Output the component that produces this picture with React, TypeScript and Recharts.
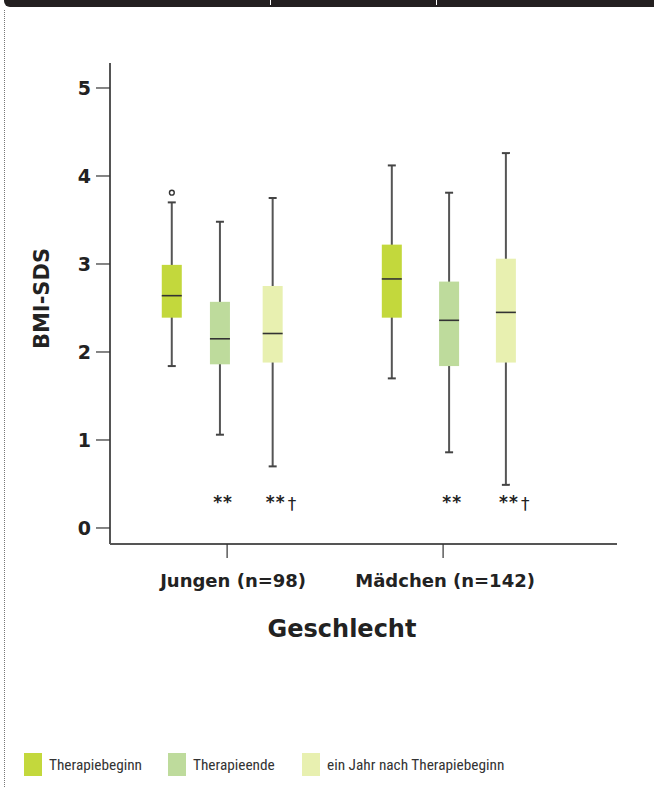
import React from "react";
import {
  ComposedChart,
  Bar,
  Scatter,
  XAxis,
  YAxis,
  Label,
} from "recharts";

// ---- data ----
const categories = ["Jungen (n=98)", "Mädchen (n=142)"];
const categoryPos = [2.31, 6.57];
const seriesNames = ["Therapiebeginn", "Therapieende", "ein Jahr nach Therapiebeginn"];
const seriesColors = ["#c3d83c", "#bedb9c", "#e8f0b0"];

const boxPos = [1.22, 2.17, 3.21, 5.56, 6.69, 7.81];
const boxSeries = [0, 1, 2, 0, 1, 2];
const whiskerLow = [1.84, 1.06, 0.7, 1.7, 0.86, 0.49];
const q1 = [2.39, 1.86, 1.88, 2.39, 1.84, 1.88];
const median = [2.64, 2.15, 2.21, 2.83, 2.36, 2.45];
const q3 = [2.99, 2.57, 2.75, 3.22, 2.8, 3.06];
const whiskerHigh = [3.7, 3.48, 3.75, 4.12, 3.81, 4.26];
const annotations = ["", "**", "**", "", "**", "**"];
const annotationDagger = [false, false, true, false, false, true];

const outlierPos = [1.22];
const outlierValue = [3.81];

const yTicks = [0, 1, 2, 3, 4, 5];

const boxData = boxPos.map((pos, i) => ({
  pos,
  range: [whiskerLow[i], whiskerHigh[i]],
  lo: whiskerLow[i],
  q1: q1[i],
  med: median[i],
  q3: q3[i],
  hi: whiskerHigh[i],
  color: seriesColors[boxSeries[i]],
}));

const outlierData = outlierPos.map((pos, i) => ({ pos, value: outlierValue[i] }));

const ANNOT_Y = 0.32;
const annotationData = boxPos
  .map((pos, i) => ({ pos, value: ANNOT_Y, text: annotations[i], dagger: annotationDagger[i] }))
  .filter((d) => d.text);

const FONT = "'DejaVu Sans', 'Open Sans', sans-serif";
const LEGEND_FONT = "'Liberation Sans Narrow', 'Roboto Condensed', 'Liberation Sans', sans-serif";

const BoxShape = (props: any) => {
  const { x, y, width, height, payload } = props;
  if (height == null || !payload) return null;
  const ppu = height / (payload.hi - payload.lo);
  const py = (v: number) => y + (payload.hi - v) * ppu;
  const cx = x + width / 2;
  const cap = 4;
  return (
    <g>
      <line x1={cx} x2={cx} y1={py(payload.hi)} y2={py(payload.lo)} stroke="#555" strokeWidth={2} />
      <line x1={cx - cap} x2={cx + cap} y1={py(payload.hi)} y2={py(payload.hi)} stroke="#444" strokeWidth={2} />
      <line x1={cx - cap} x2={cx + cap} y1={py(payload.lo)} y2={py(payload.lo)} stroke="#444" strokeWidth={2} />
      <rect x={x} y={py(payload.q3)} width={width} height={py(payload.q1) - py(payload.q3)} fill={payload.color} />
      <line x1={x} x2={x + width} y1={py(payload.med)} y2={py(payload.med)} stroke="#333" strokeWidth={1.6} />
    </g>
  );
};

const OutlierShape = (props: any) => {
  const { cx, cy } = props;
  return <circle cx={cx} cy={cy} r={2.4} fill="#fff" stroke="#333" strokeWidth={1.4} />;
};

const AnnotShape = (props: any) => {
  const { cx, cy, payload } = props;
  return (
    <g>
      <text x={cx + 3} y={cy + 2} textAnchor="middle" dominantBaseline="central" fontFamily={FONT} fontSize={17} fontWeight={700} letterSpacing={1} fill="#222">
        {payload.text}
      </text>
      {payload.dagger && (
        <text x={cx + 15} y={cy + 4} textAnchor="start" dominantBaseline="central" fontFamily="'DejaVu Sans', sans-serif" fontSize={17} fill="#222">
          †
        </text>
      )}
    </g>
  );
};

const XTick = (props: any) => {
  const { x, y, payload, index } = props;
  const label = categories[categoryPos.indexOf(payload.value)] ?? "";
  return (
    <text x={x + (index === 0 ? 6 : 2)} y={y + 14} textAnchor="middle" dominantBaseline="central" fontFamily={FONT} fontSize={18} fontWeight={700} fill="#222">
      {label}
    </text>
  );
};

export default function App() {
  return (
    <div style={{ position: "absolute", left: 0, top: 0, width: 654, height: 787, background: "#fff", overflow: "hidden" }}>
      {/* top black bar */}
      <div style={{ position: "absolute", left: 4, top: 0, width: 650, height: 7, background: "#231f20", borderBottomLeftRadius: 6 }} />
      <div style={{ position: "absolute", left: 270, top: 0, width: 1, height: 5, background: "#fff" }} />
      <div style={{ position: "absolute", left: 436, top: 0, width: 1, height: 5, background: "#fff" }} />
      {/* left dotted border */}
      <div style={{ position: "absolute", left: 4, top: 10, width: 0, height: 777, borderLeft: "1.5px dotted #777" }} />

      <div style={{ position: "absolute", left: 0, top: 0 }}>
        <ComposedChart width={654} height={787} data={boxData} margin={{ top: 63, right: 37, left: 0, bottom: 183 }}>
          <XAxis
            dataKey="pos"
            type="number"
            domain={[0, 10]}
            allowDataOverflow
            ticks={categoryPos}
            tick={<XTick />}
            tickSize={14}
            tickMargin={8}
            height={60}
            axisLine={{ stroke: "#555", strokeWidth: 2 }}
            tickLine={{ stroke: "#333", strokeWidth: 1.2 }}
          >
            <Label
              content={(p: any) => {
                const vb = p.viewBox || {};
                return (
                  <text x={342} y={(vb.y ?? 544) + 85} textAnchor="middle" dominantBaseline="central" fontFamily={FONT} fontSize={24} fontWeight={700} fill="#222">
                    Geschlecht
                  </text>
                );
              }}
            />
          </XAxis>
          <YAxis
            type="number"
            domain={[-0.182, 5.284]}
            allowDataOverflow
            ticks={yTicks}
            width={110}
            tickSize={14}
            tickMargin={5}
            tick={{ fontFamily: FONT, fontSize: 19, fontWeight: 700, fill: "#222" }}
            axisLine={{ stroke: "#555", strokeWidth: 2 }}
            tickLine={{ stroke: "#333", strokeWidth: 1.2 }}
          >
            <Label
              content={(p: any) => {
                const vb = p.viewBox || {};
                const cy = (vb.y ?? 63) + (vb.height ?? 481) / 2 - 5;
                return (
                  <text x={42} y={cy} transform={`rotate(-90 42 ${cy})`} textAnchor="middle" dominantBaseline="central" fontFamily={FONT} fontSize={21} fontWeight={700} fill="#222">
                    BMI-SDS
                  </text>
                );
              }}
            />
          </YAxis>
          <Bar dataKey="range" barSize={20} shape={<BoxShape />} isAnimationActive={false} />
          <Scatter data={outlierData} dataKey="value" shape={<OutlierShape />} isAnimationActive={false} />
          <Scatter data={annotationData} dataKey="value" shape={<AnnotShape />} isAnimationActive={false} />
        </ComposedChart>
      </div>

      {/* legend */}
      {seriesNames.map((name, i) => {
        const lefts = [24, 168, 302];
        return (
          <div key={name} style={{ position: "absolute", left: lefts[i], top: 753, display: "flex", alignItems: "center" }}>
            <div style={{ width: 18, height: 23, background: seriesColors[i] }} />
            <span style={{ marginLeft: 7, fontFamily: LEGEND_FONT, fontSize: 15.3, color: "#333" }}>{name}</span>
          </div>
        );
      })}
    </div>
  );
}
